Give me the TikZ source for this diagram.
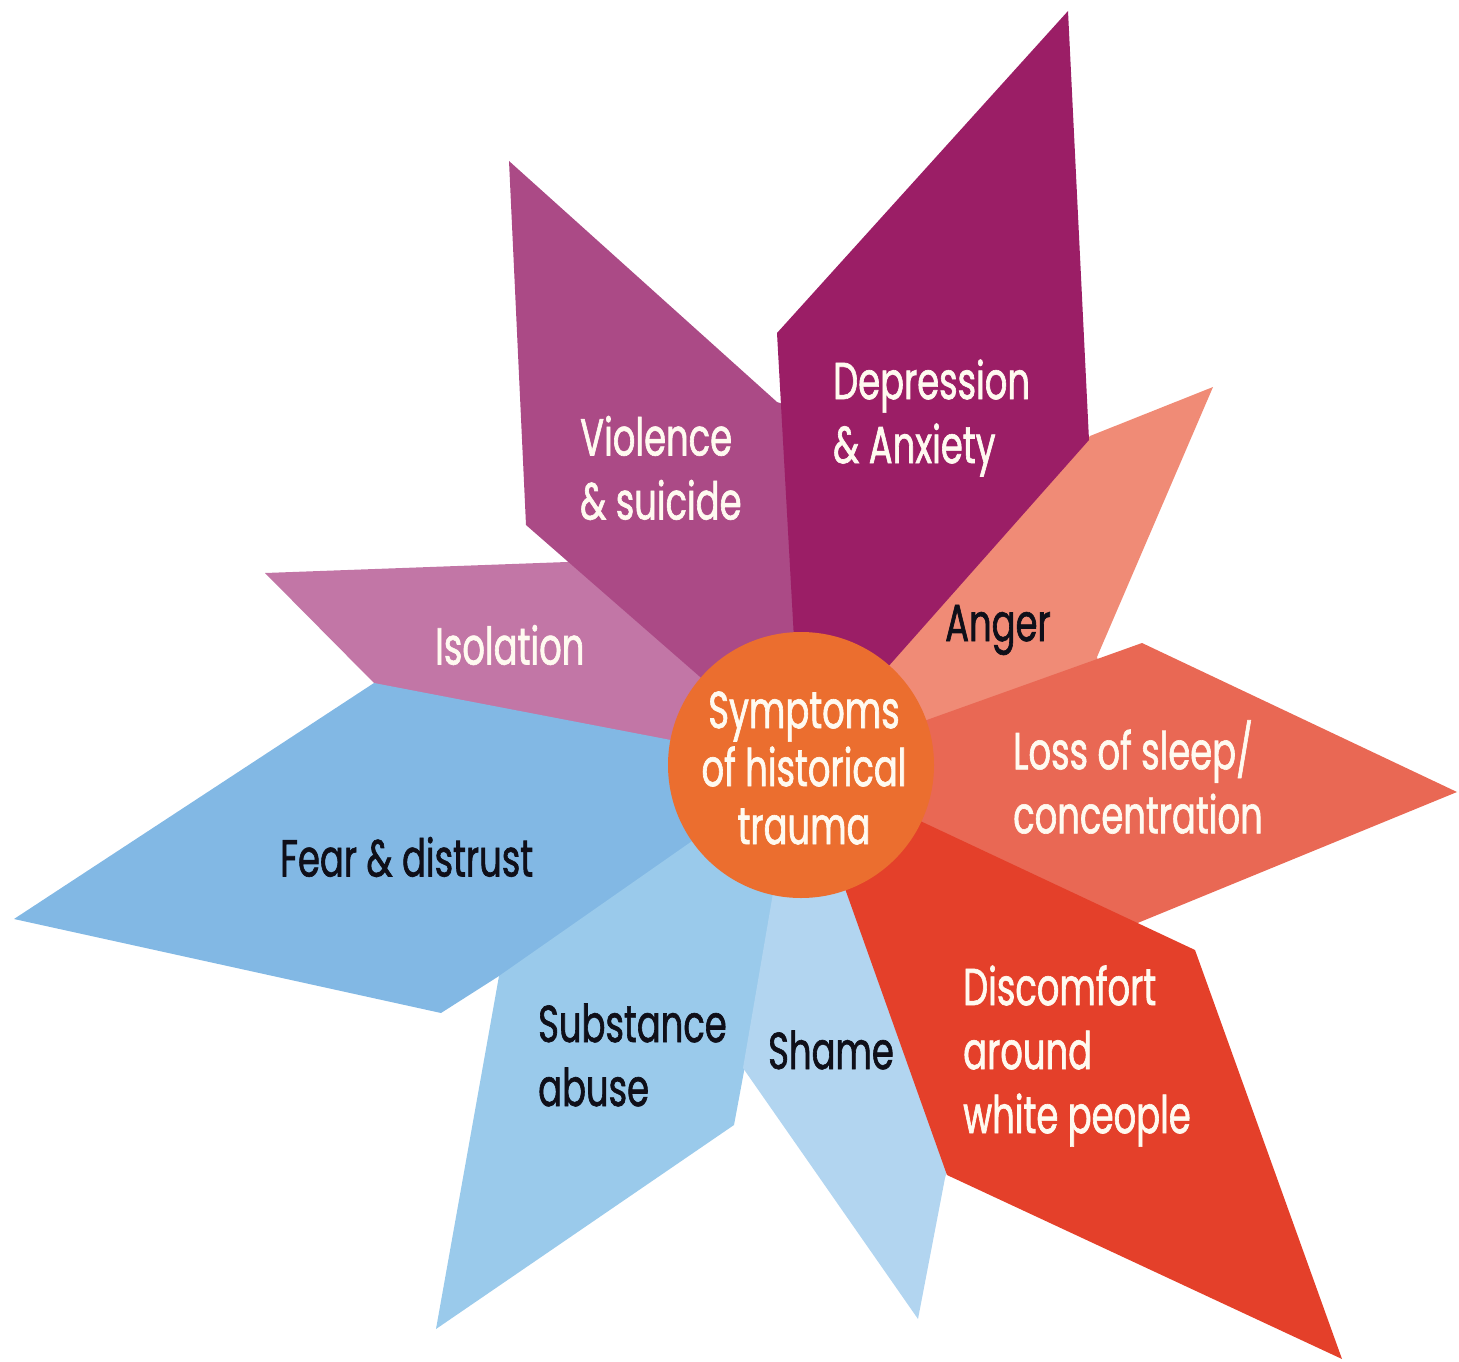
\documentclass[tikz,border=0pt]{standalone}
\usepackage{fontspec}
\setmainfont{Poppins}[FakeStretch=0.68, FakeBold=1.2]
\definecolor{cDep}{RGB}{155,30,102}
\definecolor{cVio}{RGB}{171,74,134}
\definecolor{cIso}{RGB}{194,118,166}
\definecolor{cFear}{RGB}{130,184,228}
\definecolor{cSub}{RGB}{154,202,235}
\definecolor{cSha}{RGB}{178,213,240}
\definecolor{cDis}{RGB}{228,64,42}
\definecolor{cLoss}{RGB}{233,104,84}
\definecolor{cAng}{RGB}{240,139,118}
\definecolor{cHub}{RGB}{235,110,47}
\definecolor{cDark}{RGB}{15,15,25}
\definecolor{cLight}{RGB}{255,250,240}
\tikzset{
  lbl/.style={font=\fontsize{52}{64}\selectfont, inner sep=0pt, align=left, anchor=west},
  lightlbl/.style={lbl, text=cLight},
  darklbl/.style={lbl, text=cDark},
}
\begin{document}
\begin{tikzpicture}[x=1pt,y=-1pt]
\useasboundingbox (0,0) rectangle (1459,1362);
\coordinate (C) at (801,765);
% petals (each runs a little under the one drawn after it)
\fill[cAng]  (C) -- (1090,436) -- (1213,387) -- (1097,657) -- (1110,700) -- cycle;
\fill[cLoss] (C) -- (1142,643) -- (1457,792) -- (1140,922) -- (1100,940) -- cycle;
\fill[cIso]  (C) -- (600,540) -- (567,562) -- (265,573) -- (374,683) -- (450,720) -- cycle;
\fill[cVio]  (C) -- (526,525) -- (509,161) -- (777,402) -- (830,420) -- cycle;
\fill[cDep]  (C) -- (777,333) -- (1068,11) -- (1089,440) -- cycle;
\fill[cFear] (C) -- (374,683) -- (14,919) -- (441,1013) -- (499,976) -- (560,960) -- cycle;
\fill[cSub]  (C) -- (499,976) -- (436,1329) -- (734,1125) -- cycle;
\fill[cSha]  (795,765) -- (743,1068) -- (918,1319) -- (945,1178) -- (970,1100) -- cycle;
\fill[cDis]  (C) -- (947,1175) -- (1342,1359) -- (1195,950) -- cycle;
% hub
\node[circle, fill=cHub, minimum size=266pt, inner sep=0pt] (hub) at (C) {};
\node[font=\fontsize{52}{58}\selectfont, text=cLight, align=center, inner sep=0pt] (hubtxt) at (804,768) {Symptoms\\of historical\\trauma};
% labels
\node[lightlbl] (dep) at (833,418) {Depression\\\& Anxiety};
\node[lightlbl] (vio) at (580,468) {Violence\\\& suicide};
\node[lightlbl] (iso) at (435,645) {Isolation};
\node[darklbl]  (ang) at (945,630) {Anger};
\node[lightlbl] (loss) at (1013,777) {Loss of sleep/\\concentration};
\node[darklbl]  (fear) at (280,857) {Fear \& distrust};
\node[darklbl]  (sub) at (538,1055) {Substance\\abuse};
\node[darklbl]  (sha) at (768,1050) {Shame};
\node[lightlbl] (dis) at (963,1056) {Discomfort\\around\\white people};
\end{tikzpicture}
\end{document}
